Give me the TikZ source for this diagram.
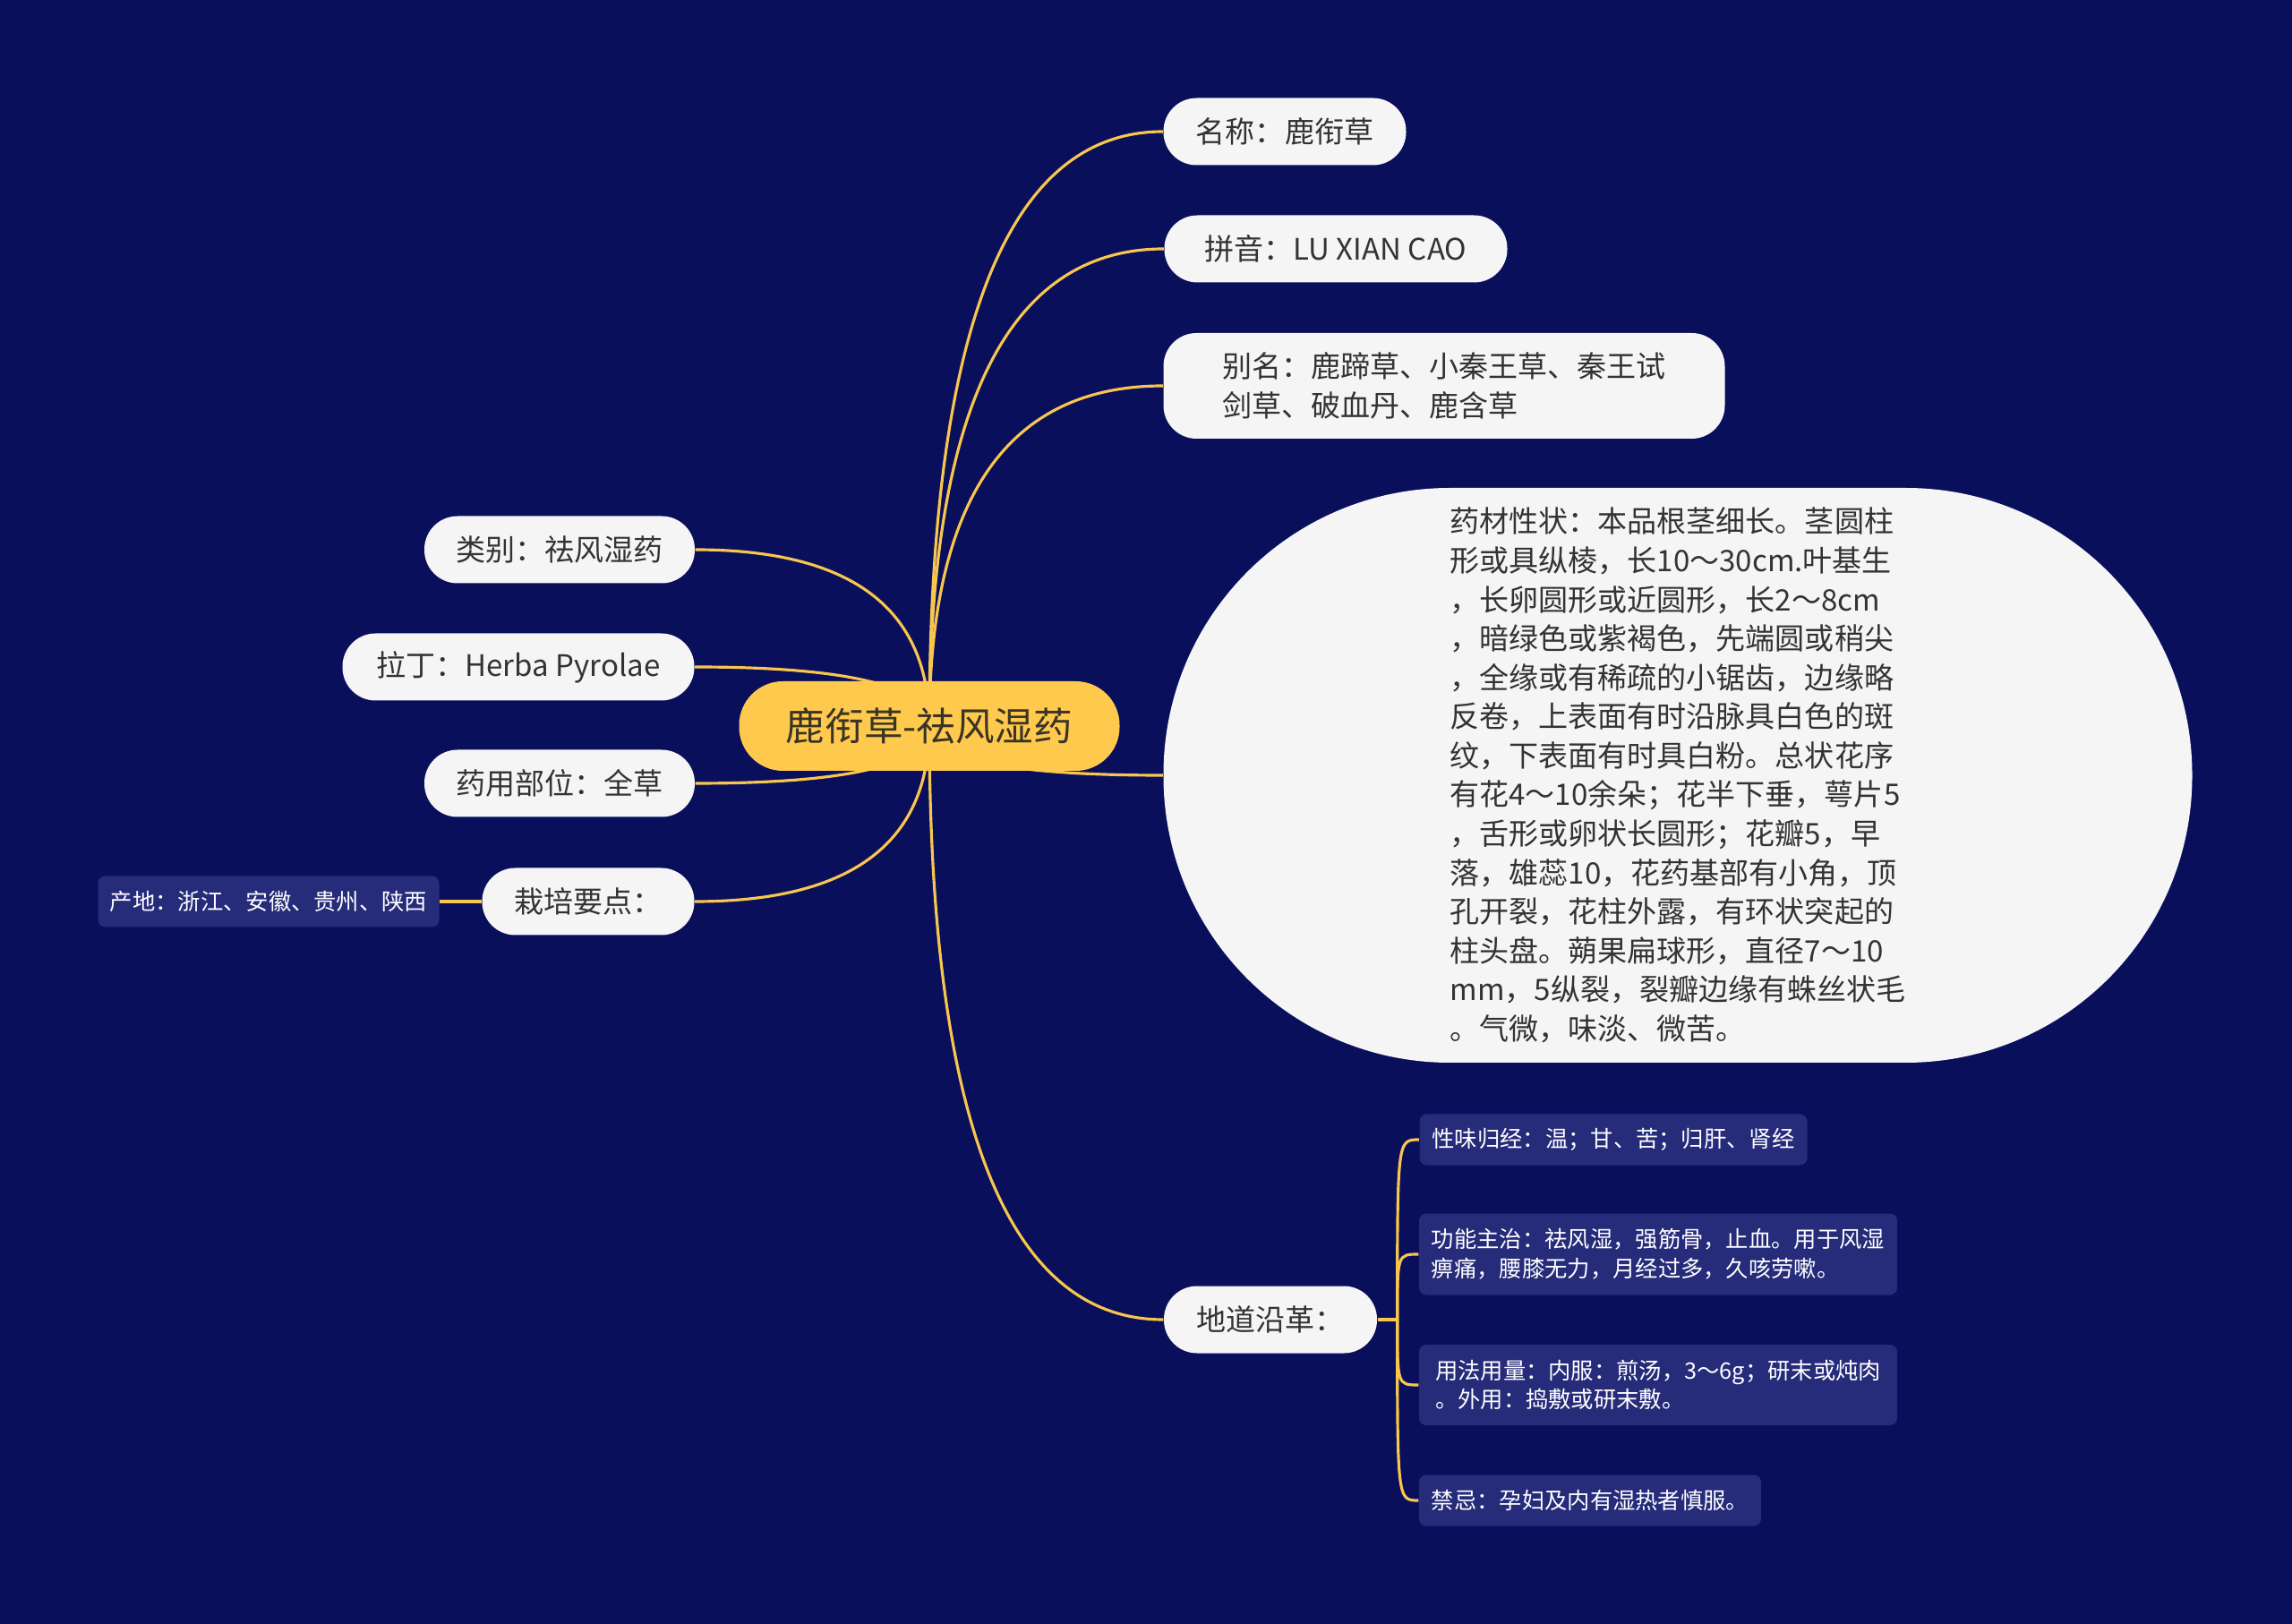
\documentclass[tikz,border=0pt]{standalone}
\usepackage{fontspec}
\setmainfont{Noto Sans CJK SC}
\usepackage{tikz}
\usetikzlibrary{positioning, calc, backgrounds}
\definecolor{lxNavy}{HTML}{0A0F5C}
\definecolor{lxGold}{HTML}{FFC94D}
\definecolor{lxLine}{HTML}{F7C64E}
\definecolor{lxPaper}{HTML}{F5F5F5}
\definecolor{lxInk}{HTML}{333333}
\definecolor{lxBrown}{HTML}{3A3424}
\definecolor{lxBox}{HTML}{262B7A}

\begin{document}
\begin{tikzpicture}[
  core/.style={rectangle, rounded corners=0.49cm, fill=lxGold, text=lxBrown, minimum width=4.25cm, minimum height=1cm, inner sep=0pt, font=\fontsize{12.4}{15}\selectfont},
  topic/.style={rectangle, rounded corners=0.37cm, fill=lxPaper, text=lxInk, minimum height=0.75cm, inner sep=0pt, align=left, font=\fontsize{9.4}{12.4}\selectfont},
  note/.style={rectangle, rounded corners=0.08cm, fill=lxBox, text=white, minimum height=0.57cm, inner sep=0pt, align=left, font=\fontsize{7.2}{9.3}\selectfont},
  ln/.style={lxLine, line width=0.9pt}]
  \node[core](root) at (10.38,-8.11){鹿衔草-祛风湿药};
  % right side
  \node[topic, minimum width=2.71cm](name) at (14.35,-1.47){名称：鹿衔草};
  \node[topic, minimum width=3.83cm](pinyin) at (14.92,-2.78){拼音：LU XIAN CAO};
  \node[topic, minimum width=6.27cm, minimum height=1.18cm](alias) at (16.13,-4.31){别名：鹿蹄草、小秦王草、秦王试\\剑草、破血丹、鹿含草};
  \node[topic, rounded corners=3.2cm, minimum width=11.49cm, minimum height=6.42cm](trait) at (18.74,-8.66){药材性状：本品根茎细长。茎圆柱\\形或具纵棱，长10～30cm.叶基生\\，长卵圆形或近圆形，长2～8cm\\，暗绿色或紫褐色，先端圆或稍尖\\，全缘或有稀疏的小锯齿，边缘略\\反卷，上表面有时沿脉具白色的斑\\纹，下表面有时具白粉。总状花序\\有花4～10余朵；花半下垂，萼片5\\，舌形或卵状长圆形；花瓣5，早\\落，雄蕊10，花药基部有小角，顶\\孔开裂，花柱外露，有环状突起的\\柱头盘。蒴果扁球形，直径7～10\\mm，5纵裂，裂瓣边缘有蛛丝状毛\\。气微，味淡、微苦。};
  \node[topic, minimum width=2.38cm](didao) at (14.19,-14.74){地道沿革：};
  % left side
  \node[topic, minimum width=3.02cm](kind) at (6.25,-6.14){类别：祛风湿药};
  \node[topic, minimum width=3.93cm](latin) at (5.79,-7.45){拉丁：Herba Pyrolae};
  \node[topic, minimum width=3.02cm](part) at (6.25,-8.75){药用部位：全草};
  \node[topic, minimum width=2.37cm](grow) at (6.57,-10.07){栽培要点：};
  \node[note, minimum width=3.81cm](origin) at (3.00,-10.07){产地：浙江、安徽、贵州、陕西};
  % under didao
  \node[note, minimum width=4.33cm](taste) at (18.02,-12.73){性味归经：温；甘、苦；归肝、肾经};
  \node[note, minimum width=5.34cm, minimum height=0.91cm](use) at (18.52,-14.01){功能主治：祛风湿，强筋骨，止血。用于风湿\\痹痛，腰膝无力，月经过多，久咳劳嗽。};
  \node[note, minimum width=5.34cm, minimum height=0.9cm](dose) at (18.52,-15.47){用法用量：内服：煎汤，3～6g；研末或炖肉\\。外用：捣敷或研末敷。};
  \node[note, minimum width=3.82cm](taboo) at (17.76,-16.76){禁忌：孕妇及内有湿热者慎服。};
  \begin{scope}[on background layer]
    \fill[lxNavy] (0,0) rectangle (25.6,-18.14);
    \foreach \n in {name,pinyin,alias,trait,didao}
      \draw[ln] (root.center) .. controls ($(root.center)!.667!(root.center |- \n.west)$) and ($(\n.west)!.667!(root.center |- \n.west)$) .. (\n.west);
    \foreach \n in {kind,latin,part,grow}
      \draw[ln] (root.center) .. controls ($(root.center)!.667!(root.center |- \n.east)$) and ($(\n.east)!.667!(root.center |- \n.east)$) .. (\n.east);
    \draw[ln](grow.west)--(origin.east);
    \coordinate (fork) at ($(didao.east)+(0.22,0)$);
    \draw[ln](didao.east)--(fork);
    \foreach \n in {taste,use,dose,taboo}
      \draw[ln] (fork) .. controls (fork |- \n.west) .. (\n.west);
  \end{scope}
\end{tikzpicture}
\end{document}
